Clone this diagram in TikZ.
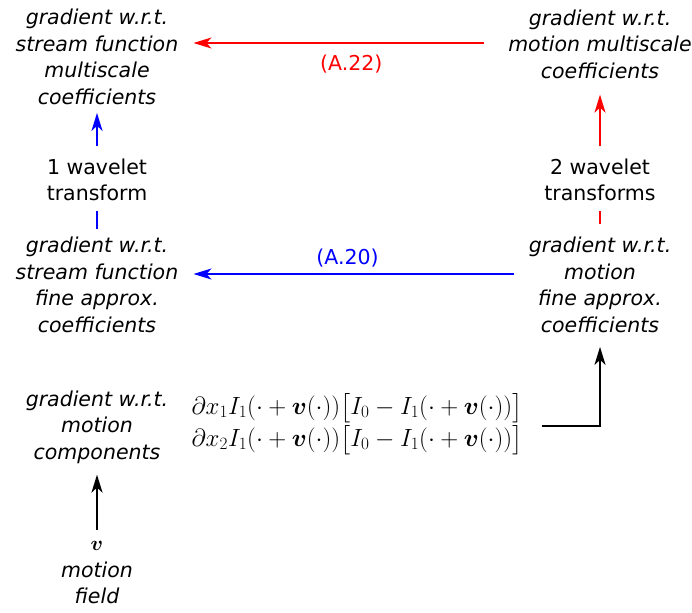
\documentclass[tikz,border=0pt]{standalone}
\usepackage{amsmath}
\usepackage{amssymb}
\usepackage[no-math]{fontspec}
\setmainfont{DejaVu Sans}
\usepackage{tikz}
\usetikzlibrary{arrows.meta, positioning}

\begin{document}
\begin{tikzpicture}[x=1pt, y=-1pt, >={Stealth[length=18pt, width=11pt, inset=5pt]},
  box/.style={align=center, font=\fontsize{20.5}{26.5}\selectfont\itshape, inner sep=6pt},
  lbl/.style={align=center, font=\fontsize{20.5}{26.5}\selectfont, inner sep=8pt},
  eqref/.style={font=\fontsize{20.5}{24}\selectfont},
  conn/.style={->, line width=2pt}]
  \useasboundingbox (0,0) rectangle (692,612);
  % coefficient boxes
  \node[box] (stmulti) at (97,57) {gradient w.r.t.\\stream function\\multiscale\\coefficients};
  \node[box] (momulti) at (600,44) {gradient w.r.t.\\motion multiscale\\coefficients};
  \node[box] (stfine)  at (97,285) {gradient w.r.t.\\stream function\\fine approx.\\coefficients};
  \node[box] (mofine)  at (600,285) {gradient w.r.t.\\motion\\fine approx.\\coefficients};
  \node[box] (mocomp)  at (97,427) {gradient w.r.t.\\motion\\components};
  \node[box] (field)   at (97,573) {$\boldsymbol{v}$\\motion\\field};
  % the two components written out
  \node[align=left, font=\fontsize{24.5}{32}\selectfont, inner sep=19pt] (terms) at (357,424)
    {$\partial x_1 I_1(\cdot+\boldsymbol{v}(\cdot))\bigl[I_0-I_1(\cdot+\boldsymbol{v}(\cdot))\bigr]$\\
     $\partial x_2 I_1(\cdot+\boldsymbol{v}(\cdot))\bigl[I_0-I_1(\cdot+\boldsymbol{v}(\cdot))\bigr]$};
  % wavelet steps
  \node[lbl] (wone) at (97,180) {1 wavelet\\transform};
  \node[lbl] (wtwo) at (600,180) {2 wavelet\\transforms};

  \draw[conn, shorten <=6pt, shorten >=5pt] (field.north) -- (mocomp.south);
  \draw[conn, shorten >=8pt] ([yshift=-2pt]terms.east) -| (mofine.south);
  \draw[conn, blue, shorten <=9pt, shorten >=9pt] ([yshift=11pt]mofine.west) -- ([yshift=11pt]mofine.west -| stfine.east)
    node[midway, above=2pt, xshift=-6pt, eqref] (eqa) {(A.20)};
  \draw[line width=2pt, blue, shorten <=2pt, shorten >=2pt] (stfine.north) -- (wone.south);
  \draw[conn, blue, shorten <=5pt, shorten >=2pt] (wone.north) -- (stmulti.south);
  \draw[line width=2pt, red, shorten <=7pt, shorten >=2pt] (mofine.north) -- (wtwo.south);
  \draw[conn, red, shorten <=5pt, shorten >=10pt] (wtwo.north) -- (momulti.south);
  \draw[conn, red, shorten <=18pt, shorten >=9pt] ([yshift=1pt]momulti.west) -- ([yshift=1pt]momulti.west -| stmulti.east)
    node[midway, below=8pt, xshift=8pt, eqref] (eqb) {(A.22)};
\end{tikzpicture}
\end{document}
